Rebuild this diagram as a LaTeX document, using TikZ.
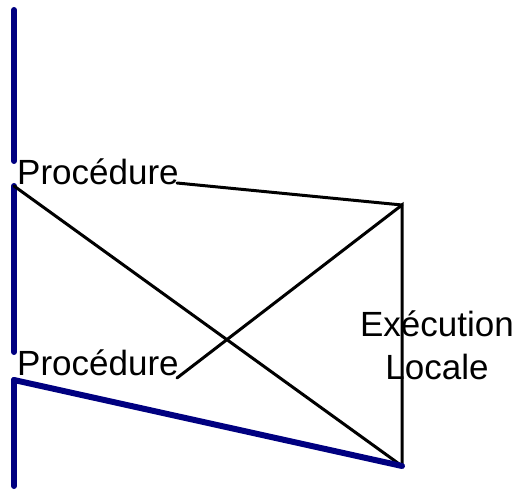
\documentclass[tikz,border=0pt]{standalone}
\usepackage{fontspec}
\setmainfont{Liberation Sans}
\definecolor{navyline}{RGB}{0,0,128}
\begin{document}
\begin{tikzpicture}[x=1pt,y=-1pt,
  bluel/.style={draw=navyline,line width=6pt,line cap=round},
  blackl/.style={draw=black,line width=3pt,line cap=round,line join=miter},
  lbl/.style={inner sep=0pt,font=\fontsize{35}{41}\selectfont}]
\useasboundingbox (0,0) rectangle (520,492);
% coordinates
\coordinate (t1) at (14,10);
\coordinate (b1) at (14,161);
\coordinate (t2) at (14,186);
\coordinate (b2) at (14,352);
\coordinate (t3) at (14,380);
\coordinate (b3) at (14,486);
\coordinate (r1) at (402,205);
\coordinate (r2) at (402,466);
\coordinate (p1) at (177,183);
\coordinate (p2) at (177,378);
% labels
\node[lbl,anchor=base west] (proc1) at (17,185) {Procédure};
\node[lbl,anchor=base west] (proc2) at (17,375) {Procédure};
\node[lbl,anchor=base] (exec1) at (437,336) {Exécution};
\node[lbl,anchor=base] (exec2) at (437,379) {Locale};
% blue lines
\draw[bluel] (t1) -- (b1);
\draw[bluel] (t2) -- (b2);
\draw[bluel] (t3) -- (b3);
% black lines
\draw[blackl] (p1) -- (r1);
\draw[blackl] (t2) -- (r2);
\draw[blackl] (p2) -- (r1) -- (r2);
\draw[bluel] (t3) -- (r2);
\end{tikzpicture}
\end{document}
